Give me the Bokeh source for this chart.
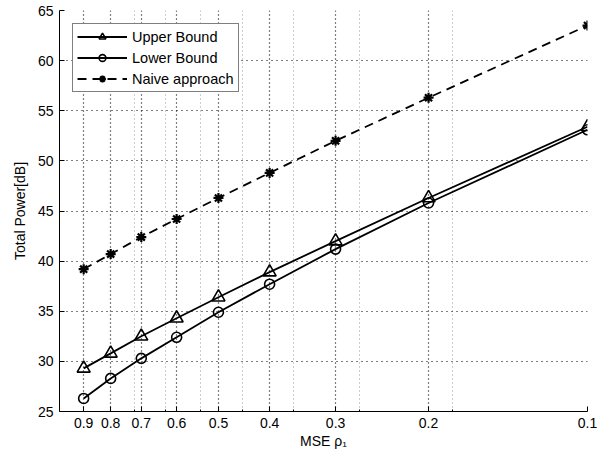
from bokeh.plotting import figure
from bokeh.models import Range1d, FixedTicker, Legend, LegendItem, CustomJSTickFormatter
from bokeh.embed import file_html
from bokeh.resources import INLINE

# data
mse = [0.9, 0.8, 0.7, 0.6, 0.5, 0.4, 0.3, 0.2, 0.1]
upper = [29.3, 30.8, 32.5, 34.3, 36.4, 38.9, 42.0, 46.3, 53.4]
lower = [26.3, 28.3, 30.3, 32.4, 34.9, 37.7, 41.2, 45.8, 53.1]
naive = [39.2, 40.7, 42.4, 44.2, 46.3, 48.8, 52.0, 56.3, 63.5]
x_ticks = [0.9, 0.8, 0.7, 0.6, 0.5, 0.4, 0.3, 0.2, 0.1]
x_minor = [0.72, 0.63, 0.54, 0.45, 0.36, 0.27, 0.18]
y_ticks = [25, 30, 35, 40, 45, 50, 55, 60, 65]

FONT = "Liberation Sans"

p = figure(width=611, height=456, x_axis_type="log",
           x_range=Range1d(1.0, 0.1), y_range=Range1d(25, 65),
           output_backend="svg", toolbar_location=None,
           min_border_left=59, min_border_right=24, min_border_top=10,
           min_border_bottom=45)
p.outline_line_color = None
p.background_fill_color = "white"
p.border_fill_color = "white"

p.xaxis.ticker = FixedTicker(ticks=x_ticks, minor_ticks=x_minor)
p.xaxis.formatter = CustomJSTickFormatter(code="return tick.toFixed(1);")
p.yaxis.ticker = FixedTicker(ticks=y_ticks, minor_ticks=[])

for ax in (p.xaxis[0], p.yaxis[0]):
    ax.major_label_text_font = FONT
    ax.major_label_text_font_size = "14px"
    ax.major_label_text_color = "black"
    ax.axis_label_text_font = FONT
    ax.axis_label_text_font_size = "14px"
    ax.axis_label_text_font_style = "normal"
    ax.axis_label_text_color = "black"
    ax.axis_line_color = "black"
    ax.axis_line_width = 1
    ax.major_tick_in = 5
    ax.major_tick_out = 0
    ax.minor_tick_in = 2
    ax.minor_tick_out = 0
    ax.major_tick_line_color = "black"
    ax.minor_tick_line_color = "black"
    ax.major_label_standoff = 6

p.xaxis.axis_label = "MSE ρ₁"
p.xaxis.axis_label_standoff = 2
p.yaxis.axis_label = "Total Power[dB]"
p.yaxis.axis_label_standoff = 7

p.xgrid.grid_line_color = "black"
p.xgrid.grid_line_dash = "1 3"
p.xgrid.grid_line_width = 1.2
p.xgrid.minor_grid_line_color = "#9a9a9a"
p.xgrid.minor_grid_line_dash = "1 3"
p.ygrid.grid_line_color = "black"
p.ygrid.grid_line_dash = "1 4"
p.ygrid.grid_line_width = 1

lw = 1.8
l_up = p.line(mse, upper, line_color="black", line_width=lw)
s_up = p.scatter(mse, upper, marker="triangle", size=13, line_color="black",
                 line_width=1.6, fill_alpha=0)
l_lo = p.line(mse, lower, line_color="black", line_width=lw)
s_lo = p.scatter(mse, lower, marker="circle", size=10, line_color="black",
                 line_width=1.6, fill_alpha=0)
l_na = p.line(mse, naive, line_color="black", line_width=lw, line_dash="9 6")
s_na = p.scatter(mse, naive, marker="asterisk", size=10, line_color="black",
                 line_width=2.2)

legend = Legend(items=[
    LegendItem(label="Upper Bound", renderers=[l_up, s_up]),
    LegendItem(label="Lower Bound", renderers=[l_lo, s_lo]),
    LegendItem(label="Naive approach", renderers=[l_na, s_na]),
], location="top_left")
legend.margin = 13
legend.padding = 4
legend.spacing = 4
legend.glyph_width = 50
legend.glyph_height = 17
legend.label_height = 17
legend.label_standoff = 5
legend.label_text_font = FONT
legend.label_text_font_size = "14.5px"
legend.label_text_color = "black"
legend.border_line_color = "black"
legend.border_line_width = 1
legend.background_fill_alpha = 1
p.add_layout(legend, "center")

open("out.html", "w").write(file_html(p, INLINE))
